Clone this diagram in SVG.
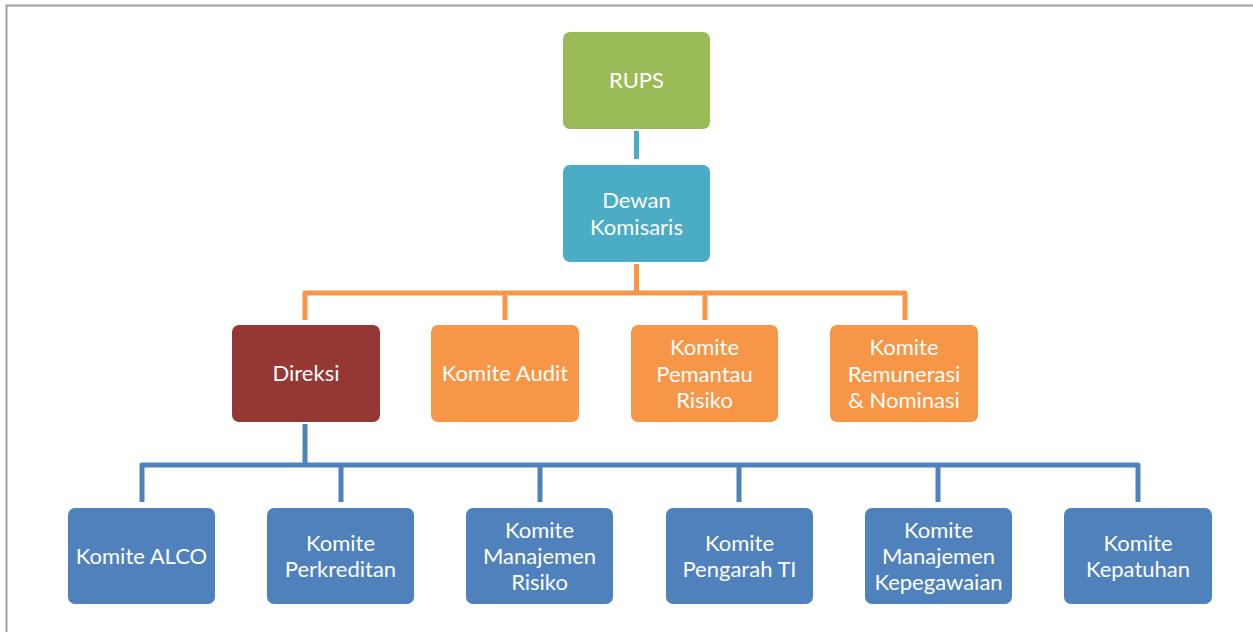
<svg xmlns="http://www.w3.org/2000/svg" width="1253" height="632" viewBox="0 0 1253 632">
<style>
.t{font-family:Lato,"Open Sans","Liberation Sans",sans-serif;font-size:22px;fill:#ffffff;text-anchor:middle}
.c{fill:none;stroke-width:5;stroke-linejoin:round}
</style>
<rect width="1253" height="632" fill="#ffffff"/>
<path d="M6.5 632 V5.5 H1253" fill="none" stroke="#a0a0a0" stroke-width="2"/>
<g id="connectors">
<path class="c" stroke="#4bacc6" d="M636.5 131 V159"/>
<path class="c" stroke="#f79646" d="M636.5 264 V293 M305 320 V293 H905 V320 M505 293 V320 M705 293 V320"/>
<path class="c" stroke="#4f81bd" d="M305 424 V465 M142 502 V465 H1138 V502 M341 465 V502 M540 465 V502 M739 465 V502 M938 465 V502"/>
</g>
<g id="rups"><rect x="563" y="32" width="147" height="97" rx="7" fill="#9bbb59"/><text class="t" x="636.5" y="88">RUPS</text></g>
<g id="dewan"><rect x="563" y="165" width="147" height="97" rx="7" fill="#4bacc6"/><text class="t" x="636.5" y="208">Dewan</text><text class="t" x="636.5" y="235">Komisaris</text></g>
<g id="direksi"><rect x="232" y="325" width="148" height="97" rx="7" fill="#953735"/><text class="t" x="306" y="381">Direksi</text></g>
<g id="audit"><rect x="431" y="325" width="148" height="97" rx="7" fill="#f79646"/><text class="t" x="505" y="381">Komite Audit</text></g>
<g id="pemantau"><rect x="631" y="325" width="147" height="97" rx="7" fill="#f79646"/><text class="t" x="704.5" y="355">Komite</text><text class="t" x="704.5" y="381.5">Pemantau</text><text class="t" x="704.5" y="408">Risiko</text></g>
<g id="remunerasi"><rect x="830" y="325" width="148" height="97" rx="7" fill="#f79646"/><text class="t" x="904" y="355">Komite</text><text class="t" x="904" y="381.5">Remunerasi</text><text class="t" x="904" y="408">&amp; Nominasi</text></g>
<g id="alco"><rect x="68" y="508" width="147" height="96" rx="7" fill="#4f81bd"/><text class="t" x="141.5" y="564">Komite ALCO</text></g>
<g id="perkreditan"><rect x="267" y="508" width="147" height="96" rx="7" fill="#4f81bd"/><text class="t" x="340.5" y="551">Komite</text><text class="t" x="340.5" y="577">Perkreditan</text></g>
<g id="manrisiko"><rect x="466" y="508" width="147" height="96" rx="7" fill="#4f81bd"/><text class="t" x="539.5" y="538">Komite</text><text class="t" x="539.5" y="564">Manajemen</text><text class="t" x="539.5" y="590">Risiko</text></g>
<g id="pengarah"><rect x="666" y="508" width="147" height="96" rx="7" fill="#4f81bd"/><text class="t" x="739.5" y="551">Komite</text><text class="t" x="739.5" y="577">Pengarah TI</text></g>
<g id="kepegawaian"><rect x="865" y="508" width="147" height="96" rx="7" fill="#4f81bd"/><text class="t" x="938.5" y="538">Komite</text><text class="t" x="938.5" y="564">Manajemen</text><text class="t" x="938.5" y="590">Kepegawaian</text></g>
<g id="kepatuhan"><rect x="1064" y="508" width="148" height="96" rx="7" fill="#4f81bd"/><text class="t" x="1138" y="551">Komite</text><text class="t" x="1138" y="577">Kepatuhan</text></g>
</svg>
